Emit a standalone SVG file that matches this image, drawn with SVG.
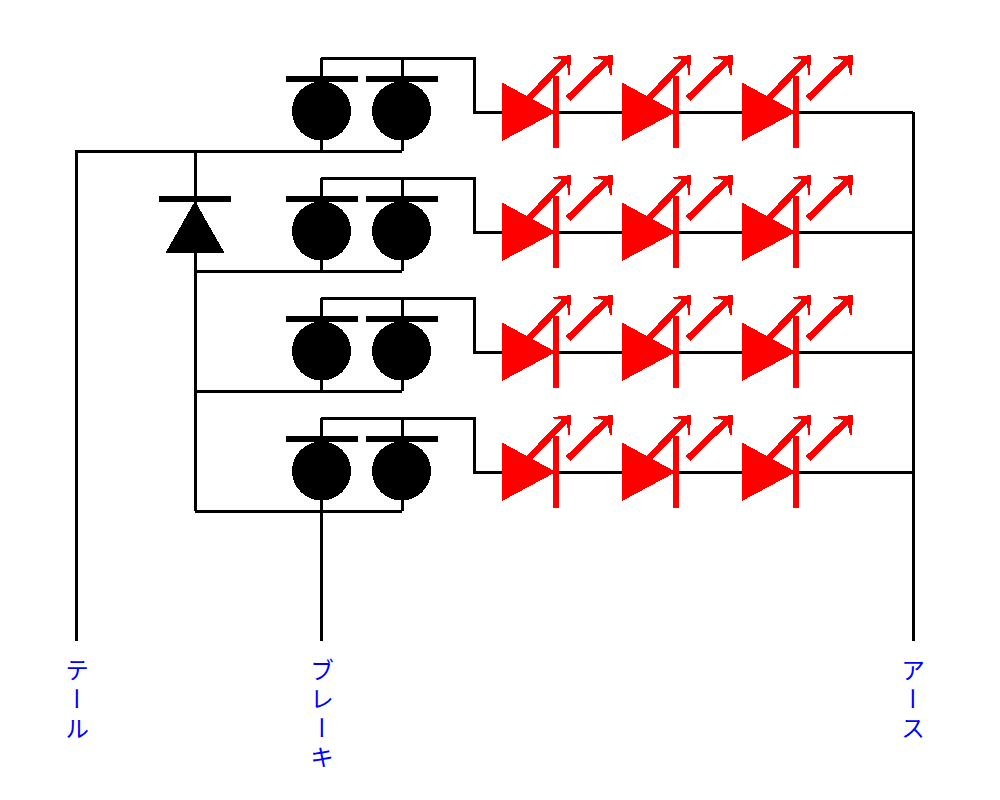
<svg xmlns="http://www.w3.org/2000/svg" width="1000" height="800" viewBox="0 0 1000 800">
<style>
svg{shape-rendering:crispEdges}
.w{fill:none;stroke:#000;stroke-width:3}
.k{fill:#000}
.r{fill:#f00}
.rs{fill:none;stroke:#f00;stroke-width:6.500}
text{font-family:"Noto Sans CJK JP",sans-serif;font-size:24px;fill:#00f;writing-mode:vertical-rl;letter-spacing:5px;text-anchor:start}
</style>
<defs>
<g id="led">
<path class="r" d="M502 82.500L556 112L502 141Z"/>
<rect class="r" x="553" y="76" width="6" height="72"/>
<path class="rs" d="M522 105L568 58"/>
<path class="r" d="M571 55L553 57L554 58.500L564 60L567 61L568 75L570 75Z"/>
<path class="rs" d="M568 98.500L610 58"/>
<path class="r" d="M613 55L593 57L594 58.500L604 60L607 61L610 75L612 75Z"/>
</g>
<g id="sw">
<rect class="k" x="286" y="76" width="72" height="6"/>
<circle class="k" cx="321.500" cy="111" r="29.500"/>
</g>
</defs>
<g id="connectors">
<path class="w" d="M76 641V151H402M195 151V511M321 58V151M402 58V151M321 58H474V112H913M913 112V641"/>
<path class="w" d="M321 178V271M402 178V271M321 178H474V232H913M195 271H402"/>
<path class="w" d="M321 298V391M402 298V391M321 298H474V352H913M195 391H402"/>
<path class="w" d="M321 418V511M402 418V511M321 418H474V472H913M195 511H402M321 511V641"/>
</g>
<g id="diode"><rect class="k" x="159" y="196" width="72" height="6"/><path class="k" d="M195 201L224.500 253H165.500Z"/></g>
<g id="sw-1-1"><use href="#sw"/></g><g id="sw-1-2" transform="translate(80 0)"><use href="#sw"/></g>
<g id="sw-2-1" transform="translate(0 120)"><use href="#sw"/></g><g id="sw-2-2" transform="translate(80 120)"><use href="#sw"/></g>
<g id="sw-3-1" transform="translate(0 240)"><use href="#sw"/></g><g id="sw-3-2" transform="translate(80 240)"><use href="#sw"/></g>
<g id="sw-4-1" transform="translate(0 360)"><use href="#sw"/></g><g id="sw-4-2" transform="translate(80 360)"><use href="#sw"/></g>
<g id="led-1-1"><use href="#led"/></g><g id="led-1-2" transform="translate(120 0)"><use href="#led"/></g><g id="led-1-3" transform="translate(240 0)"><use href="#led"/></g>
<g id="led-2-1" transform="translate(0 120)"><use href="#led"/></g><g id="led-2-2" transform="translate(120 120)"><use href="#led"/></g><g id="led-2-3" transform="translate(240 120)"><use href="#led"/></g>
<g id="led-3-1" transform="translate(0 240)"><use href="#led"/></g><g id="led-3-2" transform="translate(120 240)"><use href="#led"/></g><g id="led-3-3" transform="translate(240 240)"><use href="#led"/></g>
<g id="led-4-1" transform="translate(0 360)"><use href="#led"/></g><g id="led-4-2" transform="translate(120 360)"><use href="#led"/></g><g id="led-4-3" transform="translate(240 360)"><use href="#led"/></g>
<g id="label-tail"><text x="77" y="658">テール</text></g>
<g id="label-brake"><text x="322" y="658">ブレーキ</text></g>
<g id="label-earth"><text x="913" y="658">アース</text></g>
</svg>
